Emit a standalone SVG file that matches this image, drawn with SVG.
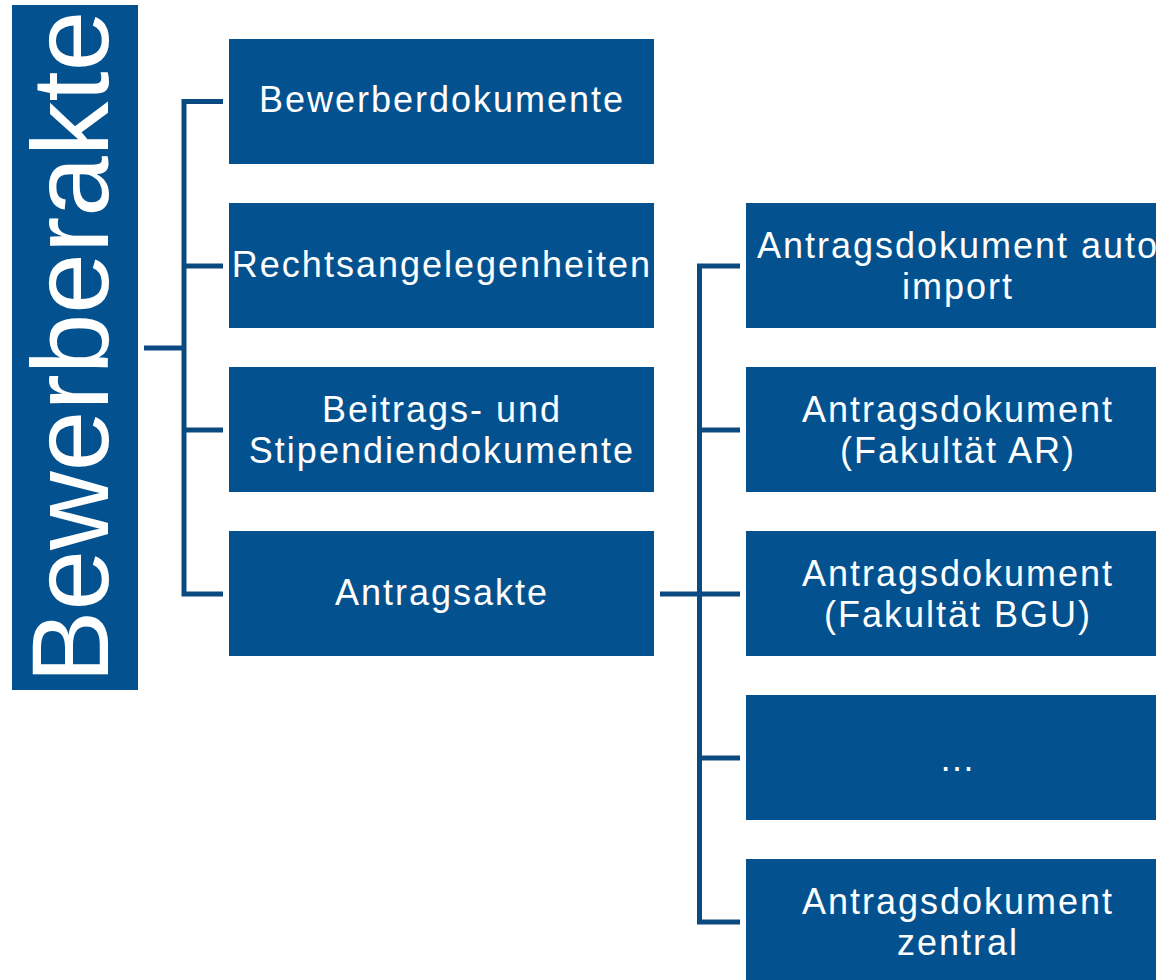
<svg xmlns="http://www.w3.org/2000/svg" width="1156" height="980" viewBox="0 0 1156 980">
<style>
.box{fill:#03528f;}
.lbl{fill:#ffffff;font-family:"Liberation Sans",Arial,sans-serif;font-size:36px;letter-spacing:2px;text-anchor:middle;}
.title{fill:#ffffff;font-family:"Liberation Sans",Arial,sans-serif;font-size:109px;text-anchor:middle;}
.conn{fill:none;stroke:#0b4a80;stroke-width:5;stroke-linejoin:miter;stroke-linecap:butt;}
</style>
<rect width="1156" height="980" fill="#ffffff"/>
<g id="connectors">
<path class="conn" d="M144 348 H184 M223 101.5 H184 V594 H223 M184 266 H223 M184 430 H223"/>
<path class="conn" d="M660 594 H740 M740 266 H699.5 V922 H740 M699.5 430 H740 M699.5 758 H740"/>
</g>
<g id="bewerberakte">
<rect class="box" x="12" y="5" width="126" height="685"/>
<text class="title" transform="translate(108,347) rotate(-90)">Bewerberakte</text>
</g>
<g id="bewerberdokumente">
<rect class="box" x="229" y="39" width="425" height="125"/>
<text class="lbl" x="442" y="112">Bewerberdokumente</text>
</g>
<g id="rechtsangelegenheiten">
<rect class="box" x="229" y="203" width="425" height="125"/>
<text class="lbl" x="442" y="277">Rechtsangelegenheiten</text>
</g>
<g id="beitragsdokumente">
<rect class="box" x="229" y="367" width="425" height="125"/>
<text class="lbl" x="442" y="422">Beitrags- und</text>
<text class="lbl" x="442" y="463">Stipendiendokumente</text>
</g>
<g id="antragsakte">
<rect class="box" x="229" y="531" width="425" height="125"/>
<text class="lbl" x="442" y="605">Antragsakte</text>
</g>
<g id="antragsdokument-auto">
<rect class="box" x="746" y="203" width="425" height="125"/>
<text class="lbl" x="958" y="258">Antragsdokument auto</text>
<text class="lbl" x="958" y="299">import</text>
</g>
<g id="antragsdokument-ar">
<rect class="box" x="746" y="367" width="425" height="125"/>
<text class="lbl" x="958" y="422">Antragsdokument</text>
<text class="lbl" x="958" y="463">(Fakultät AR)</text>
</g>
<g id="antragsdokument-bgu">
<rect class="box" x="746" y="531" width="425" height="125"/>
<text class="lbl" x="958" y="586">Antragsdokument</text>
<text class="lbl" x="958" y="627">(Fakultät BGU)</text>
</g>
<g id="ellipsis">
<rect class="box" x="746" y="695" width="425" height="125"/>
<text class="lbl" x="958" y="771">…</text>
</g>
<g id="antragsdokument-zentral">
<rect class="box" x="746" y="859" width="425" height="125"/>
<text class="lbl" x="958" y="914">Antragsdokument</text>
<text class="lbl" x="958" y="955">zentral</text>
</g>
</svg>
